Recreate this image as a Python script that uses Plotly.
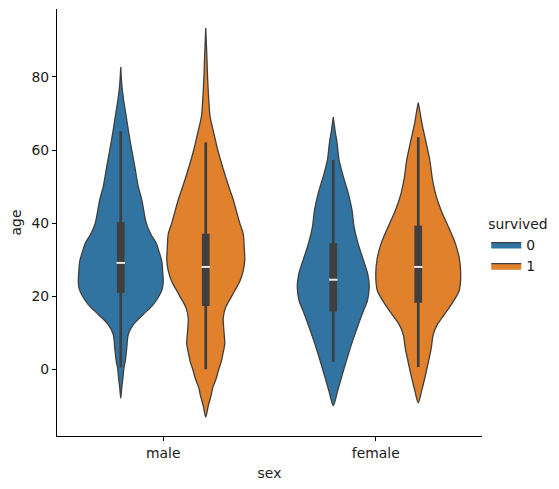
import plotly.graph_objects as go

# Categories and hue levels
sexes = ["male", "female"]
survived_levels = ["0", "1"]

# Violin density profiles (age grid, relative density)
male_0_age = [-7.9, -5.1, -1.5, 0, 2.2, 5.8, 9.5, 12.2, 15, 17.7, 20.4, 22, 24.1, 26.5, 29.6, 32, 34.5, 37, 40, 46.4, 50, 55.5, 60, 64.7, 70, 73.8, 78, 82.7]
male_0_dens = [0, 1, 2.5, 3, 4.5, 6, 7.5, 12.5, 22.5, 32.5, 39, 41.5, 42.5, 42, 41, 38.5, 35.5, 30, 25.5, 21, 17.5, 14, 11, 8, 5, 2.8, 1, 0]

male_1_age = [-13.1, -10, -7, -5, -2.5, 0, 2, 4, 7, 11, 14, 17, 20, 22, 24, 27, 30, 33, 37, 40, 46.4, 50, 55.5, 60, 64.7, 69.2, 73.8, 80, 85, 93.4]
male_1_dens = [0, 2.5, 5.5, 7, 10.5, 13, 15.5, 17, 19, 18, 17.5, 20, 26, 30, 34, 37.5, 39, 38.5, 37.5, 34, 27.5, 23, 16.7, 12, 8, 4.3, 3, 1.8, 1.2, 0]

female_0_age = [-10, -6, -1.5, 3.1, 7.7, 12.2, 15.9, 18.6, 22.5, 26, 30, 34.5, 39, 43.6, 48.2, 52.8, 57.3, 62, 65, 69]
female_0_dens = [0, 4.3, 9, 14, 19.3, 25, 30, 34, 36, 34.5, 30, 24.7, 20.8, 18.7, 15, 10, 5.8, 3.8, 2, 0]

female_1_age = [-9.2, -6, -1.5, 3.1, 5.8, 9.5, 12.2, 16.8, 21.4, 26, 30.4, 34.1, 38.6, 43.2, 47.8, 52.3, 57, 61.5, 67.8, 70, 73]
female_1_dens = [0, 3.3, 7.3, 11, 13, 15, 19, 30.8, 40.8, 42.5, 41, 37.5, 30.8, 23.3, 17.5, 14, 11.7, 8.3, 3.3, 2, 0]

# Box statistics: whisker low, q1, median, q3, whisker high
male_0_box = [0.5, 20.9, 29.1, 40.3, 65.1]
male_1_box = [0.0, 17.3, 28.0, 37.1, 62.1]
female_0_box = [2.0, 15.8, 24.5, 34.5, 57.3]
female_1_box = [0.6, 18.2, 28.0, 39.3, 63.5]

violins = [
    (0, 0, male_0_age, male_0_dens, male_0_box),
    (0, 1, male_1_age, male_1_dens, male_1_box),
    (1, 0, female_0_age, female_0_dens, female_0_box),
    (1, 1, female_1_age, female_1_dens, female_1_box),
]

colors = ["#3274a1", "#e1812c"]
edge = "#3f3f3f"
dodge = 0.2
half_width = 0.2
dmax = max(max(v[3]) for v in violins)
FS = 13.9
FONT = "DejaVu Sans"
TXT = "#1a1a1a"

fig = go.Figure()
for sex_i, hue_i, ages, dens, box in violins:
    c = sex_i + (-dodge if hue_i == 0 else dodge)
    hw = [half_width * d / dmax for d in dens]
    xs = [c + h for h in hw] + [c - h for h in reversed(hw)]
    ys = list(ages) + list(reversed(ages))
    fig.add_trace(go.Scatter(
        x=xs, y=ys, mode="lines", fill="toself",
        fillcolor=colors[hue_i],
        line=dict(color=edge, width=1.3, shape="spline", smoothing=0.8),
        name=survived_levels[hue_i], legendgroup=survived_levels[hue_i],
        showlegend=(sex_i == 0), hoverinfo="skip",
    ))

for sex_i, hue_i, ages, dens, box in violins:
    c = sex_i + (-dodge if hue_i == 0 else dodge)
    lo, q1, med, q3, hi = box
    fig.add_trace(go.Scatter(x=[c, c], y=[lo, hi], mode="lines",
                             line=dict(color=edge, width=2.7), showlegend=False, hoverinfo="skip"))
    fig.add_trace(go.Scatter(x=[c, c], y=[q1, q3], mode="lines",
                             line=dict(color=edge, width=7.7), showlegend=False, hoverinfo="skip"))
    fig.add_trace(go.Scatter(x=[c], y=[med], mode="markers",
                             marker=dict(symbol="line-ew", size=6, line=dict(color="#e6e6e6", width=2)),
                             showlegend=False, hoverinfo="skip"))

axis_common = dict(showline=True, linecolor="black", linewidth=1.1, ticks="outside",
                   ticklen=4, tickwidth=1.1, tickcolor="black", showgrid=False,
                   zeroline=False, mirror=False, automargin=False,
                   tickfont=dict(family=FONT, size=FS, color=TXT))

fig.update_layout(
    width=559, height=489,
    margin=dict(l=57, r=77, t=9, b=53, autoexpand=False),
    plot_bgcolor="white", paper_bgcolor="white",
    font=dict(family=FONT, size=FS, color=TXT),
    xaxis=dict(range=[-0.5, 1.5], tickvals=[0, 1], ticktext=sexes,
               title=dict(text="sex", standoff=8, font=dict(family=FONT, size=FS, color=TXT)),
               **axis_common),
    yaxis=dict(range=[-18.27, 98.6], tickvals=[0, 20, 40, 60, 80],
               title=dict(text="age", standoff=6, font=dict(family=FONT, size=FS, color=TXT)),
               **axis_common),
    legend=dict(title=dict(text="survived", font=dict(family=FONT, size=FS, color=TXT)),
                font=dict(family=FONT, size=FS, color=TXT),
                x=1.01, y=0.527, xanchor="left", yanchor="top",
                bgcolor="rgba(0,0,0,0)", itemwidth=30, tracegroupgap=0),
)

fig.write_html("out.html", config={"displayModeBar": False},
               post_script="document.body.style.margin='0px';")
